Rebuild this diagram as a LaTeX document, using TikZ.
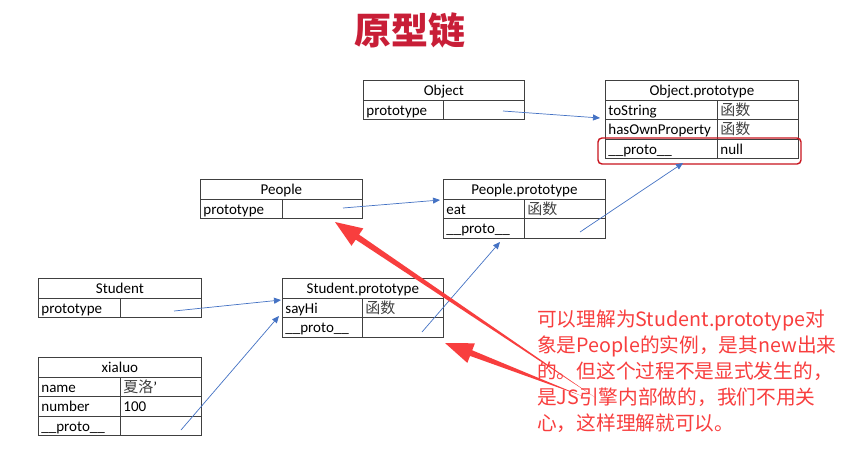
\documentclass[tikz,border=0pt]{standalone}
\usepackage{fontspec}
\setmainfont{Carlito}
\newfontfamily\cjk{Noto Sans CJK SC}
\usetikzlibrary{arrows.meta,calc}
\definecolor{tblue}{RGB}{68,114,196}
\definecolor{tred}{RGB}{248,62,62}
\definecolor{ttitle}{RGB}{200,30,55}
\definecolor{tbox}{RGB}{200,20,30}
\newcommand\cjkcell[1]{{\cjk\color{black!75}#1}}
\begin{document}
\begin{tikzpicture}[x=1pt,y=-1pt,
  cell/.style={draw=black!75, line width=0.8pt, anchor=north west, inner xsep=3pt, inner ysep=0pt,
    minimum height=19.5pt, text height=12.5pt, text depth=1.5pt,
    font=\fontsize{15}{18}\selectfont, align=left},
  head/.style={cell, align=center},
  barrow/.style={draw=tblue, line width=0.7pt, -{Triangle[length=7pt,width=6pt]}}
]
\fill[white] (0,0) rectangle (853,448);
\useasboundingbox (0,0) rectangle (853,448);

% title
\node[font=\cjk\bfseries\fontsize{37}{40}\selectfont, text=ttitle] (title) at (410,30) {原型链};

% Object
\node[head,text width=155pt] (objT) at (363,80) {Object};
\node[cell,text width=74pt] (objK) at (363,99.5) {prototype};
\node[cell,text width=75pt] (objV) at (443,99.5) {};

% Object.prototype
\node[head,text width=187pt] (opT) at (605,80) {Object.prototype};
\node[cell,text width=106pt] (opK1) at (605,99.5) {toString};
\node[cell,text width=75pt] (opV1) at (717,99.5) {\cjkcell{函数}};
\node[cell,text width=106pt] (opK2) at (605,119) {hasOwnProperty};
\node[cell,text width=75pt] (opV2) at (717,119) {\cjkcell{函数}};
\node[cell,text width=106pt] (opK3) at (605,138.5) {\_\_proto\_\_};
\node[cell,text width=75pt] (opV3) at (717,138.5) {null};
\node[draw=tbox, line width=1.4pt, rounded corners=4pt, minimum width=203pt, minimum height=26pt, inner sep=0pt] (redbox) at (699.5,151) {};

% People
\node[head,text width=156pt] (peT) at (200,179) {People};
\node[cell,text width=76pt] (peK) at (200,198.5) {prototype};
\node[cell,text width=74pt] (peV) at (282,198.5) {};

% People.prototype
\node[head,text width=156pt] (ppT) at (443,179) {People.prototype};
\node[cell,text width=75pt] (ppK1) at (443,198.5) {eat};
\node[cell,text width=75pt] (ppV1) at (524,198.5) {\cjkcell{函数}};
\node[cell,text width=75pt] (ppK2) at (443,218) {\_\_proto\_\_};
\node[cell,text width=75pt] (ppV2) at (524,218) {};

% Student
\node[head,text width=157pt] (stT) at (38,278) {Student};
\node[cell,text width=76pt] (stK) at (38,297.5) {prototype};
\node[cell,text width=75pt] (stV) at (120,297.5) {};

% Student.prototype
\node[head,text width=155pt] (spT) at (282,278) {Student.prototype};
\node[cell,text width=74pt] (spK1) at (282,297.5) {sayHi};
\node[cell,text width=75pt] (spV1) at (362,297.5) {\cjkcell{函数}};
\node[cell,text width=74pt] (spK2) at (282,317) {\_\_proto\_\_};
\node[cell,text width=75pt] (spV2) at (362,317) {};

% xialuo
\node[head,text width=157pt] (xlT) at (38,357) {xialuo};
\node[cell,text width=76pt] (xlK1) at (38,376.5) {name};
\node[cell,text width=75pt] (xlV1) at (120,376.5) {\cjkcell{夏洛}'};
\node[cell,text width=76pt] (xlK2) at (38,396) {number};
\node[cell,text width=75pt] (xlV2) at (120,396) {100};
\node[cell,text width=76pt] (xlK3) at (38,415.5) {\_\_proto\_\_};
\node[cell,text width=75pt] (xlV3) at (120,415.5) {};

% blue connectors
\coordinate (b1s) at (503,111); \coordinate (b1e) at (600,118);
\coordinate (b2s) at (343,208); \coordinate (b2e) at (440,200);
\coordinate (b3s) at (580,232); \coordinate (b3e) at (683,163);
\coordinate (b4s) at (174,311); \coordinate (b4e) at (281,300);
\coordinate (b5s) at (422,332); \coordinate (b5e) at (500,242);
\coordinate (b6s) at (181,430); \coordinate (b6e) at (279,316);
\draw[barrow] (b1s) -- (b1e);
\draw[barrow] (b2s) -- (b2e);
\draw[barrow] (b3s) -- (b3e);
\draw[barrow] (b4s) -- (b4e);
\draw[barrow] (b5s) -- (b5e);
\draw[barrow] (b6s) -- (b6e);

% red arrows
\coordinate (r1t) at (335,222); \coordinate (r1e) at (596,398);
\coordinate (r1b) at ($(r1t)!27pt!(r1e)$);
\fill[tred] (r1e) -- ($(r1b)!3pt!90:(r1e)$) -- ($(r1b)!10.5pt!90:(r1e)$) -- (r1t)
  -- ($(r1b)!10.5pt!-90:(r1e)$) -- ($(r1b)!3pt!-90:(r1e)$) -- cycle;
\coordinate (r2t) at (445,343); \coordinate (r2e) at (582,396);
\coordinate (r2b) at ($(r2t)!28pt!(r2e)$);
\fill[tred] (r2e) -- ($(r2b)!3pt!90:(r2e)$) -- ($(r2b)!10.5pt!90:(r2e)$) -- (r2t)
  -- ($(r2b)!10.5pt!-90:(r2e)$) -- ($(r2b)!3pt!-90:(r2e)$) -- cycle;

% note
\node[anchor=north west, inner sep=0pt, text=tred, font=\cjk\fontsize{19.7}{26}\selectfont, align=left] (note) at (537,309.5)
 {可以理解为Student.prototype对\\象是People的实例，是其new出来\\的。但这个过程不是显式发生的，\\是JS引擎内部做的，我们不用关\\心，这样理解就可以。};
\end{tikzpicture}
\end{document}
